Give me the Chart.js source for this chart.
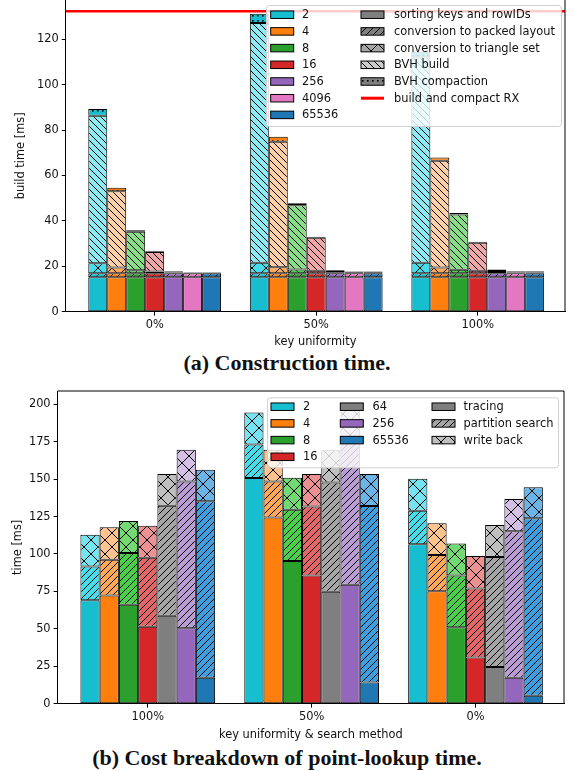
<!DOCTYPE html>
<html>
<head>
<meta charset="utf-8">
<script src="https://cdn.jsdelivr.net/npm/chart.js@4.4.1/dist/chart.umd.min.js"></script>
<style>
  html, body { margin: 0; padding: 0; background: #fff; }
  body { width: 574px; height: 771px; position: relative; overflow: hidden; }
  canvas { position: absolute; left: 0; }
  #chartA { top: -12px; }
  #chartB { top: 379px; }
  .caption { position: absolute; left: 0; width: 574px; text-align: center; font: bold 22px 'Liberation Serif', serif; color: #111; line-height: 24px; }
</style>
</head>
<body>
<canvas id="chartA" width="574" height="361"></canvas>
<div class="caption" style="top: 351px;">(a) Construction time.</div>
<canvas id="chartB" width="574" height="363"></canvas>
<div class="caption" style="top: 746px;">(b) Cost breakdown of point-lookup time.</div>
<script>
// (a) construction time, one row per key count, columns = 0%, 50%, 100% uniformity
const groupsA = ['0%', '50%', '100%'];
const keysA = ['2', '4', '8', '16', '256', '4096', '65536'];
const sorting = [
  [15.2, 15.2, 15.2], [15.2, 15.2, 15.2], [15.2, 15.2, 15.2], [15.2, 15.2, 15.2],
  [15.2, 15.2, 15.2], [15.2, 15.2, 15.2], [15.2, 15.2, 15.2],
];
const packed = [
  [1.7, 1.7, 1.7], [1.7, 1.7, 1.7], [1.7, 1.7, 1.7], [1.7, 1.7, 1.7],
  [1.7, 1.7, 1.7], [1.7, 1.7, 1.7], [1.7, 1.7, 1.7],
];
const triangles = [
  [4.4, 4.6, 4.6], [2.5, 2.7, 2.6], [1.3, 1.7, 1.6], [0.8, 1.1, 1.1],
  [0.3, 0.5, 0.6], [0.1, 0.2, 0.3], [0.1, 0.2, 0.3],
];
const bvhBuild = [
  [65.0, 105.7, 90.5], [33.6, 55.3, 47.0], [17.0, 28.3, 24.3], [8.6, 14.6, 12.4],
  [0.5, 0.8, 0.9], [0.2, 0.4, 0.5], [0.2, 0.4, 0.5],
];
const compaction = [
  [3.0, 4.0, 2.5], [1.6, 2.2, 1.4], [0.7, 0.9, 0.7], [0.3, 0.4, 0.4],
  [0.2, 0.2, 0.2], [0.1, 0.2, 0.2], [0.1, 0.2, 0.2],
];
const rxBuild = 132.3;

// (b) point lookups, columns = 100%, 50%, 0% uniformity
const groupsB = ['100%', '50%', '0%'];
const keysB = ['2', '4', '8', '16', '64', '256', '65536'];
const tracing = [
  [69.1, 150.7, 106.5], [72.2, 124.4, 75.1], [66.1, 95.3, 51.1], [51.3, 85.6, 30.9],
  [58.7, 74.7, 24.4], [50.4, 79.4, 17.3], [17.3, 14.1, 5.2],
];
const partition = [
  [22.6, 22.4, 22.4], [24.0, 24.0, 24.2], [34.6, 34.3, 34.5], [46.2, 46.2, 46.0],
  [73.6, 73.1, 73.6], [98.0, 97.5, 97.9], [117.9, 118.0, 118.6],
];
const writeBack = [
  [21.1, 21.5, 21.3], [21.7, 21.3, 21.3], [21.3, 21.3, 21.4], [21.3, 21.6, 21.8],
  [21.1, 21.5, 21.3], [21.3, 21.0, 21.6], [21.1, 21.3, 20.8],
];

const colorsA = ['#17becf', '#ff7f0e', '#2ca02c', '#d62728', '#9467bd', '#e377c2', '#1f77b4'];
const colorsB = ['#17becf', '#ff7f0e', '#2ca02c', '#d62728', '#7f7f7f', '#9467bd', '#1f77b4'];
const GRAY = '#7f7f7f';
const TEXT = '#111';
const FONT = 11.4;

Chart.defaults.font.family = "'DejaVu Sans', sans-serif";
Chart.defaults.font.size = FONT;
Chart.defaults.color = TEXT;

function lighten(hex, dl) {
  const n = parseInt(hex.slice(1), 16);
  const r = (n >> 16 & 255) / 255, g = (n >> 8 & 255) / 255, b = (n & 255) / 255;
  const mx = Math.max(r, g, b), mn = Math.min(r, g, b);
  let h = 0, s = 0;
  const l = (mx + mn) / 2;
  if (mx !== mn) {
    const d = mx - mn;
    s = l > 0.5 ? d / (2 - mx - mn) : d / (mx + mn);
    if (mx === r) h = (g - b) / d + (g < b ? 6 : 0);
    else if (mx === g) h = (b - r) / d + 2;
    else h = (r - g) / d + 4;
    h /= 6;
  }
  return `hsl(${h * 360}, ${s * 100}%, ${Math.min(1, l + dl) * 100}%)`;
}

// matplotlib-like hatch fills
function hatch(color, kind) {
  if (!kind) return color;
  const s = kind === 'x' ? 14 : (kind === '.' ? 5 : 7);
  const c = document.createElement('canvas');
  c.width = s; c.height = s;
  const g = c.getContext('2d');
  g.fillStyle = color;
  g.fillRect(0, 0, s, s);
  g.strokeStyle = '#000';
  g.lineWidth = 1;
  g.beginPath();
  if (kind === '/' || kind === 'x') {
    g.moveTo(0, s); g.lineTo(s, 0);
    g.moveTo(-1, 1); g.lineTo(1, -1);
    g.moveTo(s - 1, s + 1); g.lineTo(s + 1, s - 1);
  }
  if (kind === '\\' || kind === 'x') {
    g.moveTo(0, 0); g.lineTo(s, s);
    g.moveTo(-1, s - 1); g.lineTo(1, s + 1);
    g.moveTo(s - 1, -1); g.lineTo(s + 1, 1);
  }
  g.stroke();
  if (kind === '.') {
    g.fillStyle = '#000';
    g.fillRect(2, 2, 1.6, 1.6);
  }
  return g.createPattern(c, 'repeat');
}

const segA = [
  { name: 'sorting keys and rowIDs', vals: sorting, light: 0, kind: null },
  { name: 'conversion to packed layout', vals: packed, light: 0, kind: '/' },
  { name: 'conversion to triangle set', vals: triangles, light: 0.15, kind: 'x' },
  { name: 'BVH build', vals: bvhBuild, light: 0.3, kind: '\\' },
  { name: 'BVH compaction', vals: compaction, light: 0, kind: '.' },
];
const segB = [
  { name: 'tracing', vals: tracing, light: 0, kind: null },
  { name: 'partition search', vals: partition, light: 0.15, kind: '/' },
  { name: 'write back', vals: writeBack, light: 0.25, kind: 'x' },
];

function buildDatasets(keys, colors, segs) {
  const out = [];
  keys.forEach((k, ki) => {
    segs.forEach((seg) => {
      out.push({
        label: `${k} ${seg.name}`,
        data: seg.vals[ki],
        stack: k,
        backgroundColor: hatch(lighten(colors[ki], seg.light), seg.kind),
        borderColor: '#000',
        borderWidth: 1,
        borderSkipped: false,
        categoryPercentage: 0.822,
        barPercentage: 1,
      });
    });
  });
  return out;
}

function drawLegend(chart, spec) {
  const { ctx, chartArea } = chart;
  const x0 = chartArea.right - spec.right - spec.width;
  const y0 = chartArea.top + spec.top;
  ctx.save();
  ctx.beginPath();
  ctx.roundRect(x0 + 0.5, y0 + 0.5, spec.width, spec.height, 3);
  ctx.fillStyle = 'rgba(255,255,255,0.8)';
  ctx.fill();
  ctx.strokeStyle = '#d0d0d0';
  ctx.lineWidth = 1;
  ctx.stroke();
  ctx.font = `${FONT}px 'DejaVu Sans', sans-serif`;
  ctx.textBaseline = 'middle';
  spec.items.forEach((it) => {
    const px = x0 + spec.cols[it.col][0];
    const tx = x0 + spec.cols[it.col][1];
    const cy = y0 + spec.first + it.row * spec.step;
    if (it.line) {
      ctx.strokeStyle = it.line;
      ctx.lineWidth = 3;
      ctx.beginPath();
      ctx.moveTo(px, cy); ctx.lineTo(px + 23, cy);
      ctx.stroke();
    } else {
      ctx.fillStyle = it.fill;
      ctx.fillRect(px, cy - 3.75, 23, 7.5);
      ctx.strokeStyle = '#000';
      ctx.lineWidth = 1;
      ctx.strokeRect(px, cy - 3.75, 23, 7.5);
    }
    ctx.fillStyle = TEXT;
    ctx.fillText(it.text, tx, cy + 0.5);
  });
  ctx.restore();
}

const frame = {
  id: 'frame',
  afterDatasetsDraw(chart, args, opts) {
    const { ctx, chartArea, scales } = chart;
    ctx.save();
    if (opts.hline !== undefined) {
      const y = scales.y.getPixelForValue(opts.hline);
      ctx.strokeStyle = '#ff0000';
      ctx.lineWidth = 2.5;
      ctx.beginPath();
      ctx.moveTo(chartArea.left, y); ctx.lineTo(chartArea.right, y);
      ctx.stroke();
    }
    ctx.strokeStyle = '#000';
    ctx.lineWidth = 1;
    ctx.beginPath();
    ctx.moveTo(chartArea.right, chartArea.bottom);
    ctx.lineTo(chartArea.right, chartArea.top);
    if (opts.top) ctx.lineTo(chartArea.left, chartArea.top);
    ctx.stroke();
    ctx.restore();
  },
  afterDraw(chart, args, opts) {
    drawLegend(chart, opts.legend);
  },
};

function makeOptions(groups, yMax, step, yTitle, xTitle, pad, yTitlePad, xTitlePad, frameOpts) {
  return {
    responsive: false,
    animation: false,
    layout: { padding: pad },
    plugins: { legend: { display: false }, tooltip: { enabled: false }, frame: frameOpts },
    scales: {
      x: {
        type: 'linear',
        offset: false,
        min: -0.55,
        max: 2.54,
        afterBuildTicks: (axis) => { axis.ticks = groups.map((g, i) => ({ value: i })); },
        ticks: { callback: (v) => groups[v], padding: 3, maxRotation: 0, autoSkip: false },
        grid: { offset: false, drawOnChartArea: false, tickLength: 4, color: '#000' },
        border: { color: '#000', width: 1 },
        title: { display: true, text: xTitle, padding: xTitlePad },
      },
      y: {
        stacked: true,
        min: 0,
        max: yMax,
        ticks: { stepSize: step, includeBounds: false, padding: 3 },
        grid: { drawOnChartArea: false, tickLength: 4, color: '#000' },
        border: { color: '#000', width: 1 },
        title: { display: true, text: yTitle, padding: yTitlePad },
      },
    },
  };
}

const legendA = {
  right: 4, top: 5, width: 295, height: 121, first: 9.7, step: 16.7,
  cols: [[4.7, 36], [95, 128]],
  items: [
    ...keysA.map((k, i) => ({ col: 0, row: i, text: k, fill: colorsA[i] })),
    ...segA.map((s, i) => ({ col: 1, row: i, text: s.name, fill: hatch(lighten(GRAY, s.light), s.kind) })),
    { col: 1, row: 5, text: 'build and compact RX', line: '#ff0000' },
  ],
};
const legendB = {
  right: 6, top: 6.3, width: 291, height: 70, first: 9.4, step: 16.7,
  cols: [[4, 36], [73.3, 105.6], [165, 196.6]],
  items: [
    ...keysB.map((k, i) => ({ col: Math.floor(i / 4), row: i % 4, text: k, fill: colorsB[i] })),
    ...segB.map((s, i) => ({ col: 2, row: i, text: s.name, fill: hatch(lighten(GRAY, s.light), s.kind) })),
  ],
};

new Chart(document.getElementById('chartA'), {
  type: 'bar',
  data: { labels: groupsA.map((g, i) => i), datasets: buildDatasets(keysA, colorsA, segA) },
  options: makeOptions(groupsA, 137.3, 20, 'build time [ms]', 'key uniformity',
    { left: 9.9, right: 9, top: 12, bottom: 0 },
    { top: 4, bottom: 6.5 }, { top: 0, bottom: 0 },
    { hline: rxBuild, top: false, legend: legendA }),
  plugins: [frame],
});

new Chart(document.getElementById('chartB'), {
  type: 'bar',
  data: { labels: groupsB.map((g, i) => i), datasets: buildDatasets(keysB, colorsB, segB) },
  options: makeOptions(groupsB, 208.9, 25, 'time [ms]', 'key uniformity & search method',
    { left: 7.5, right: 10, top: 12, bottom: 0 },
    { top: 4, bottom: 0.7 }, { top: 1, bottom: 0 },
    { top: true, legend: legendB }),
  plugins: [frame],
});
</script>
</body>
</html>
